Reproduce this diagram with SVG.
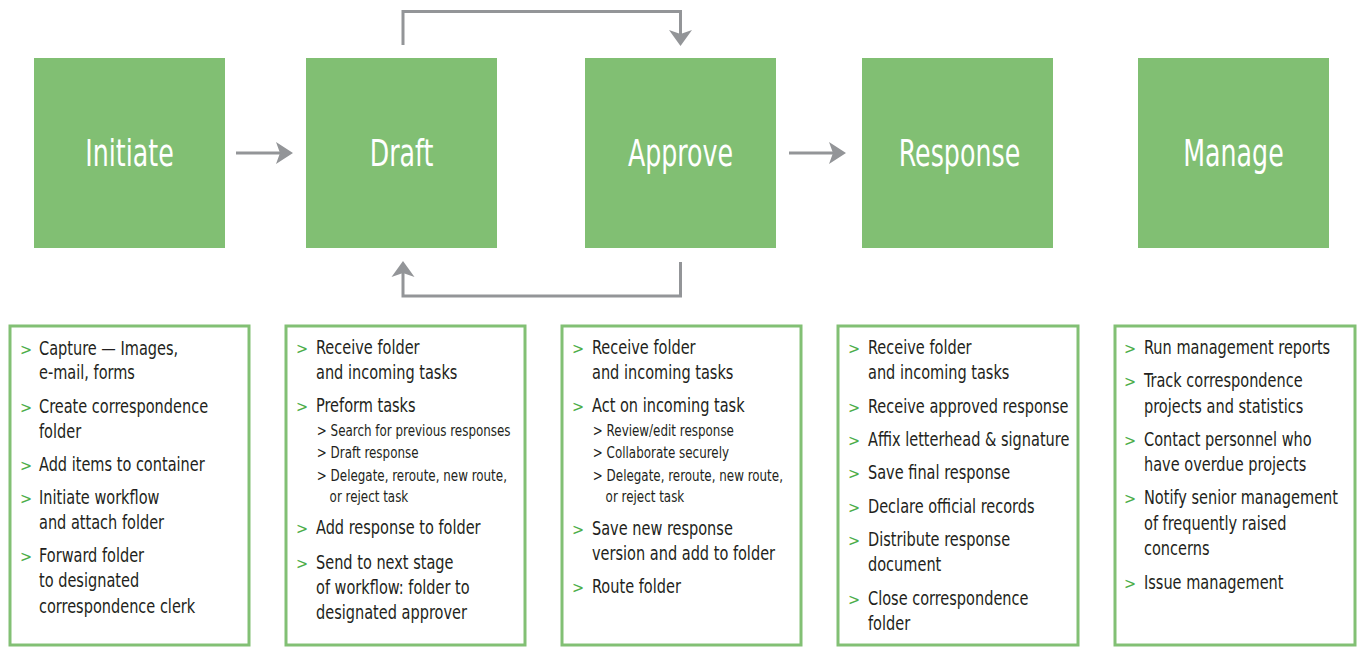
<svg xmlns="http://www.w3.org/2000/svg" width="1361" height="647" viewBox="0 0 1361 647">
<style>
.stage{fill:#81bf73}
.title{font-family:"DejaVu Sans Condensed","DejaVu Sans",sans-serif;font-stretch:condensed;font-size:37px;fill:#ffffff;text-anchor:middle}
.panel{fill:#ffffff;stroke:#82c074;stroke-width:3}
.t{font-family:"DejaVu Sans Condensed","DejaVu Sans",sans-serif;font-stretch:condensed;font-size:19px;fill:#231f20}
.s{font-family:"DejaVu Sans Condensed","DejaVu Sans",sans-serif;font-stretch:condensed;font-size:15.6px;fill:#231f20}
.b{font-family:"DejaVu Sans Condensed","DejaVu Sans",sans-serif;font-stretch:condensed;font-size:16px;fill:#4cad4a}
.ln{fill:none;stroke:#939598;stroke-width:3}
.ah{fill:#939598}
</style>
<rect width="1361" height="647" fill="#ffffff"/>
<g id="initiate"><rect class="stage" x="34" y="58" width="191" height="190"/><text class="title" transform="translate(129.5 166) scale(0.76 1)">Initiate</text></g>
<g id="draft"><rect class="stage" x="306" y="58" width="191" height="190"/><text class="title" transform="translate(401.5 166) scale(0.76 1)">Draft</text></g>
<g id="approve"><rect class="stage" x="585" y="58" width="191" height="190"/><text class="title" transform="translate(680.5 166) scale(0.76 1)">Approve</text></g>
<g id="response"><rect class="stage" x="862" y="58" width="191" height="190"/><text class="title" transform="translate(959.5 166) scale(0.76 1)">Response</text></g>
<g id="manage"><rect class="stage" x="1138" y="58" width="191" height="190"/><text class="title" transform="translate(1233.5 166) scale(0.76 1)">Manage</text></g>
<g id="connectors">
<path class="ln" d="M236 153H281"/>
<path class="ah" d="M293 153L276 142L280 153L276 164Z"/>
<path class="ln" d="M789 153H834"/>
<path class="ah" d="M846 153L829 142L833 153L829 164Z"/>
<path class="ln" d="M403 45V11.5H680.5V34"/>
<path class="ah" d="M680.5 46L669 30L680.5 34L692 30Z"/>
<path class="ln" d="M680.5 262V296H403V273"/>
<path class="ah" d="M403 261L391.5 277L403 273L414.5 277Z"/>
</g>
<g id="panel-initiate"><rect class="panel" x="10" y="326" width="239" height="319"/>
<text class="b" x="20" y="355">&gt;</text><text class="b" x="20" y="413">&gt;</text><text class="b" x="20" y="471">&gt;</text><text class="b" x="20" y="504">&gt;</text><text class="b" x="20" y="562">&gt;</text>
<g transform="translate(39 0) scale(0.85 1)">
<text class="t" x="0" y="355">Capture — Images,</text><text class="t" x="0" y="379">e-mail, forms</text>
<text class="t" x="0" y="413">Create correspondence</text><text class="t" x="0" y="438">folder</text>
<text class="t" x="0" y="471">Add items to container</text>
<text class="t" x="0" y="504">Initiate workflow</text><text class="t" x="0" y="529">and attach folder</text>
<text class="t" x="0" y="562">Forward folder</text><text class="t" x="0" y="587">to designated</text><text class="t" x="0" y="613">correspondence clerk</text>
</g></g>
<g id="panel-draft"><rect class="panel" x="286" y="326" width="239" height="319"/>
<text class="b" x="296" y="354">&gt;</text><text class="b" x="296" y="412">&gt;</text><text class="b" x="296" y="534">&gt;</text><text class="b" x="296" y="569">&gt;</text>
<g transform="translate(316 0) scale(0.85 1)">
<text class="t" x="0" y="354">Receive folder</text><text class="t" x="0" y="379">and incoming tasks</text>
<text class="t" x="0" y="412">Preform tasks</text>
<text class="s" x="1" y="436">&gt; Search for previous responses</text>
<text class="s" x="1" y="458">&gt; Draft response</text>
<text class="s" x="1" y="481">&gt; Delegate, reroute, new route,</text>
<text class="s" x="16" y="502">or reject task</text>
<text class="t" x="0" y="534">Add response to folder</text>
<text class="t" x="0" y="569">Send to next stage</text><text class="t" x="0" y="594">of workflow: folder to</text><text class="t" x="0" y="619">designated approver</text>
</g></g>
<g id="panel-approve"><rect class="panel" x="562" y="326" width="239" height="319"/>
<text class="b" x="572" y="354">&gt;</text><text class="b" x="572" y="412">&gt;</text><text class="b" x="572" y="535">&gt;</text><text class="b" x="572" y="593">&gt;</text>
<g transform="translate(592 0) scale(0.85 1)">
<text class="t" x="0" y="354">Receive folder</text><text class="t" x="0" y="379">and incoming tasks</text>
<text class="t" x="0" y="412">Act on incoming task</text>
<text class="s" x="1" y="436">&gt; Review/edit response</text>
<text class="s" x="1" y="458">&gt; Collaborate securely</text>
<text class="s" x="1" y="481">&gt; Delegate, reroute, new route,</text>
<text class="s" x="16" y="502">or reject task</text>
<text class="t" x="0" y="535">Save new response</text><text class="t" x="0" y="560">version and add to folder</text>
<text class="t" x="0" y="593">Route folder</text>
</g></g>
<g id="panel-response"><rect class="panel" x="838" y="326" width="240" height="319"/>
<text class="b" x="848" y="354">&gt;</text><text class="b" x="848" y="413">&gt;</text><text class="b" x="848" y="446">&gt;</text><text class="b" x="848" y="479">&gt;</text><text class="b" x="848" y="513">&gt;</text><text class="b" x="848" y="546">&gt;</text><text class="b" x="848" y="605">&gt;</text>
<g transform="translate(868 0) scale(0.85 1)">
<text class="t" x="0" y="354">Receive folder</text><text class="t" x="0" y="379">and incoming tasks</text>
<text class="t" x="0" y="413">Receive approved response</text>
<text class="t" x="0" y="446">Affix letterhead &amp; signature</text>
<text class="t" x="0" y="479">Save final response</text>
<text class="t" x="0" y="513">Declare official records</text>
<text class="t" x="0" y="546">Distribute response</text><text class="t" x="0" y="571">document</text>
<text class="t" x="0" y="605">Close correspondence</text><text class="t" x="0" y="630">folder</text>
</g></g>
<g id="panel-manage"><rect class="panel" x="1115" y="326" width="240" height="319"/>
<text class="b" x="1124" y="354">&gt;</text><text class="b" x="1124" y="387">&gt;</text><text class="b" x="1124" y="446">&gt;</text><text class="b" x="1124" y="504">&gt;</text><text class="b" x="1124" y="589">&gt;</text>
<g transform="translate(1144 0) scale(0.85 1)">
<text class="t" x="0" y="354">Run management reports</text>
<text class="t" x="0" y="387">Track correspondence</text><text class="t" x="0" y="413">projects and statistics</text>
<text class="t" x="0" y="446">Contact personnel who</text><text class="t" x="0" y="471">have overdue projects</text>
<text class="t" x="0" y="504">Notify senior management</text><text class="t" x="0" y="530">of frequently raised</text><text class="t" x="0" y="555">concerns</text>
<text class="t" x="0" y="589">Issue management</text>
</g></g>
</svg>
